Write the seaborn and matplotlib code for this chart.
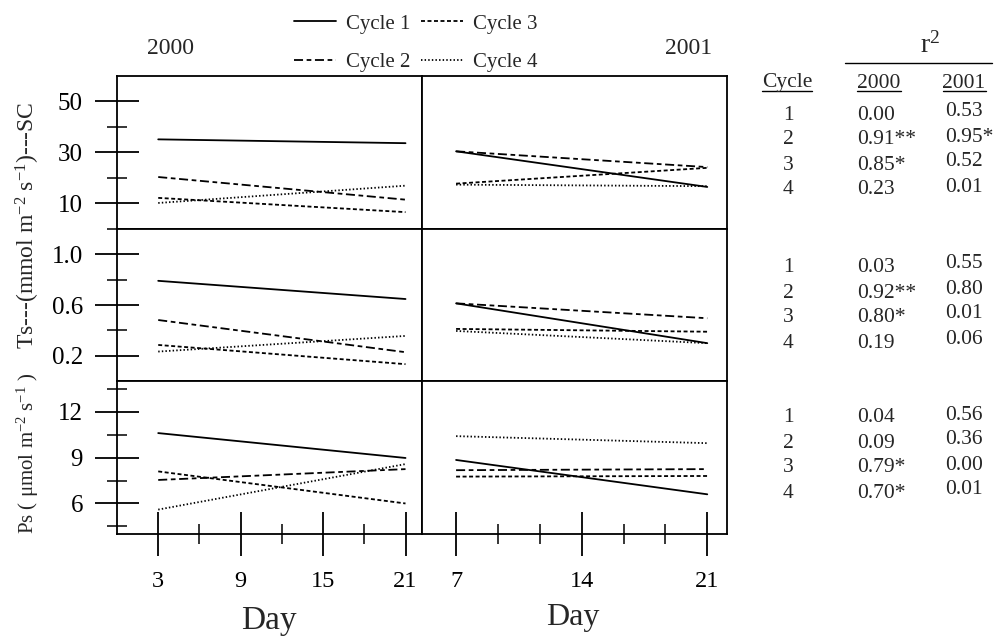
import pandas as pd
import matplotlib
matplotlib.use("Agg")
import matplotlib.pyplot as plt
from matplotlib.lines import Line2D
from matplotlib.ticker import FixedLocator
import seaborn as sns

#%% data (regression line end points)
cycles = ['Cycle 1', 'Cycle 2', 'Cycle 3', 'Cycle 4']
days_2000 = [3, 21]
days_2001 = [7, 21]

sc_2000 = [[35.1, 33.6], [20.3, 11.4], [12.1, 6.5], [10.1, 16.9]]
sc_2001 = [[30.4, 16.4], [30.4, 24.2], [17.7, 23.9], [17.3, 16.7]]
ts_2000 = [[0.79, 0.647], [0.482, 0.229], [0.286, 0.135], [0.234, 0.357]]
ts_2001 = [[0.613, 0.30], [0.613, 0.496], [0.412, 0.39], [0.396, 0.30]]
ps_2000 = [[10.61, 8.98], [7.54, 8.25], [8.10, 6.00], [5.60, 8.58]]
ps_2001 = [[8.85, 6.60], [8.18, 8.25], [7.76, 7.80], [10.41, 9.95]]

cycle_ids = ['1', '2', '3', '4']
r2_sc_2000 = ['0.00', '0.91**', '0.85*', '0.23']
r2_sc_2001 = ['0.53', '0.95*', '0.52', '0.01']
r2_ts_2000 = ['0.03', '0.92**', '0.80*', '0.19']
r2_ts_2001 = ['0.55', '0.80', '0.01', '0.06']
r2_ps_2000 = ['0.04', '0.09', '0.79*', '0.70*']
r2_ps_2001 = ['0.56', '0.36', '0.00', '0.01']

#%% long table
rows = []
panels = [('SC', 2000, days_2000, sc_2000), ('SC', 2001, days_2001, sc_2001),
          ('Ts', 2000, days_2000, ts_2000), ('Ts', 2001, days_2001, ts_2001),
          ('Ps', 2000, days_2000, ps_2000), ('Ps', 2001, days_2001, ps_2001)]
for var, year, days, vals in panels:
    for c, pair in zip(cycles, vals):
        for d, v in zip(days, pair):
            rows.append(dict(var=var, year=year, day=d, value=v, cycle=c))
df = pd.DataFrame(rows)

#%%
sns.set_theme(style="ticks")
plt.rcParams['font.family'] = ['Liberation Serif', 'DejaVu Serif']
plt.rcParams['mathtext.fontset'] = 'custom'
plt.rcParams['mathtext.rm'] = 'Liberation Serif'
plt.rcParams['axes.linewidth'] = 1.3
plt.rcParams['axes.edgecolor'] = 'black'

dash_map = {'Cycle 1': '', 'Cycle 2': (5, 2, 2.6, 2),
            'Cycle 3': (2.2, 1.4), 'Cycle 4': (0.8, 1.2)}

fig, axs = plt.subplots(3, 2, figsize=(9.94, 6.4), dpi=100,
                        gridspec_kw=dict(hspace=0, wspace=0))
fig.subplots_adjust(left=117 / 994, right=727 / 994, top=1 - 76 / 640, bottom=1 - 534 / 640)

ylims = {'SC': (0, 60), 'Ts': (0, 1.2), 'Ps': (4, 14)}
ymaj = {'SC': [10, 30, 50], 'Ts': [0.2, 0.6, 1.0], 'Ps': [6, 9, 12]}
ymin = {'SC': [0, 20, 40], 'Ts': [0.4, 0.8], 'Ps': [4.5, 7.5, 10.5, 13.5]}
ylab_fmt = {'SC': '{:.0f}', 'Ts': '{:.1f}', 'Ps': '{:.0f}'}

for r, var in enumerate(['SC', 'Ts', 'Ps']):
    for c, year in enumerate([2000, 2001]):
        ax = axs[r, c]
        sub = df[(df['var'] == var) & (df['year'] == year)]
        sns.lineplot(data=sub, x='day', y='value', style='cycle', style_order=cycles,
                     dashes=dash_map, color='black', lw=1.3, estimator=None,
                     legend=False, ax=ax)
        ax.set_ylim(*ylims[var])
        ax.set_xlim((0, 22.2) if year == 2000 else (5.1, 22.1))
        ax.set_xlabel('')
        ax.set_ylabel('')
        for s in ax.spines.values():
            s.set_visible(True)
            s.set_linewidth(1.3)
        if c == 0:
            ax.yaxis.set_major_locator(FixedLocator(ymaj[var]))
            ax.yaxis.set_minor_locator(FixedLocator(ymin[var]))
            ax.set_yticklabels([ylab_fmt[var].format(v) for v in ymaj[var]])
            ax.tick_params(axis='y', which='major', direction='inout', length=31,
                           width=1.3, labelsize=18, pad=9, colors='black')
            ax.tick_params(axis='y', which='minor', direction='inout', length=15,
                           width=1.3, left=True)
        else:
            ax.set_yticks([])
        if r == 2:
            if year == 2000:
                ax.xaxis.set_major_locator(FixedLocator([3, 9, 15, 21]))
                ax.xaxis.set_minor_locator(FixedLocator([6, 12, 18]))
            else:
                ax.xaxis.set_major_locator(FixedLocator([7, 14, 21]))
                ax.xaxis.set_minor_locator(FixedLocator([7 + 7 / 3, 7 + 14 / 3,
                                                         14 + 7 / 3, 14 + 14 / 3]))
            ax.tick_params(axis='x', which='major', direction='inout', length=31,
                           width=1.3, labelsize=17.5, pad=11, colors='black')
            ax.tick_params(axis='x', which='minor', direction='inout', length=15,
                           width=1.3, bottom=True)
        else:
            ax.set_xticks([])

def px(x, y):
    return x / 994, 1 - y / 640

# year labels and axis titles
fig.text(*px(171, 48), '2000', ha='center', va='center', fontsize=17)
fig.text(*px(689, 48), '2001', ha='center', va='center', fontsize=17)
fig.text(*px(269, 621), 'Day', ha='center', va='center', fontsize=24)
fig.text(*px(573, 617), 'Day', ha='center', va='center', fontsize=23)
fig.text(*px(28, 225), r'Ts---(mmol m$\mathregular{^{-2}}$ s$\mathregular{^{-1}}$)---SC',
         rotation=90, ha='center', va='center', fontsize=17)
fig.text(*px(28, 453), r'Ps ( $\mathregular{\mu}$mol m$\mathregular{^{-2}}$ s$\mathregular{^{-1}}$ )',
         rotation=90, ha='center', va='center', fontsize=15)

# legend
handles = [Line2D([], [], color='black', lw=1.3,
                  dashes=dash_map[c] if dash_map[c] else (None, None)) for c in cycles]
handles[0].set_linestyle('-')
fig.legend(handles, cycles, ncol=2, loc='center', bbox_to_anchor=px(416, 43),
           frameon=False, fontsize=15, handlelength=2.0, labelspacing=0.9,
           columnspacing=0.5, handletextpad=0.5)

# r^2 table
fig.text(*px(930, 45), r'r$\mathregular{^2}$', ha='center', va='center', fontsize=20)
fig.add_artist(Line2D([845 / 994, 992 / 994], [1 - 63 / 640] * 2, color='black', lw=1.0))
for label, xc, x0, x1 in [('Cycle', 787, 762, 812), ('2000', 879, 857, 901),
                          ('2001', 964, 943, 986)]:
    fig.text(*px(xc, 83), label, ha='center', va='center', fontsize=15.5)
    fig.add_artist(Line2D([x0 / 994, x1 / 994], [1 - 91 / 640] * 2, color='black', lw=1.0))

groups = [([115, 140, 165, 190], r2_sc_2000, r2_sc_2001),
          ([267, 293, 317, 343], r2_ts_2000, r2_ts_2001),
          ([418, 443, 468, 493], r2_ps_2000, r2_ps_2001)]
for ys, col0, col1 in groups:
    for y, cid, a, b in zip(ys, cycle_ids, col0, col1):
        fig.text(*px(788, y), cid, ha='center', va='center', fontsize=15.5)
        fig.text(*px(857, y), a, ha='left', va='center', fontsize=15.5)
        fig.text(*px(945, y - 3), b, ha='left', va='center', fontsize=15.5)

plt.savefig("out.png", dpi=100)
